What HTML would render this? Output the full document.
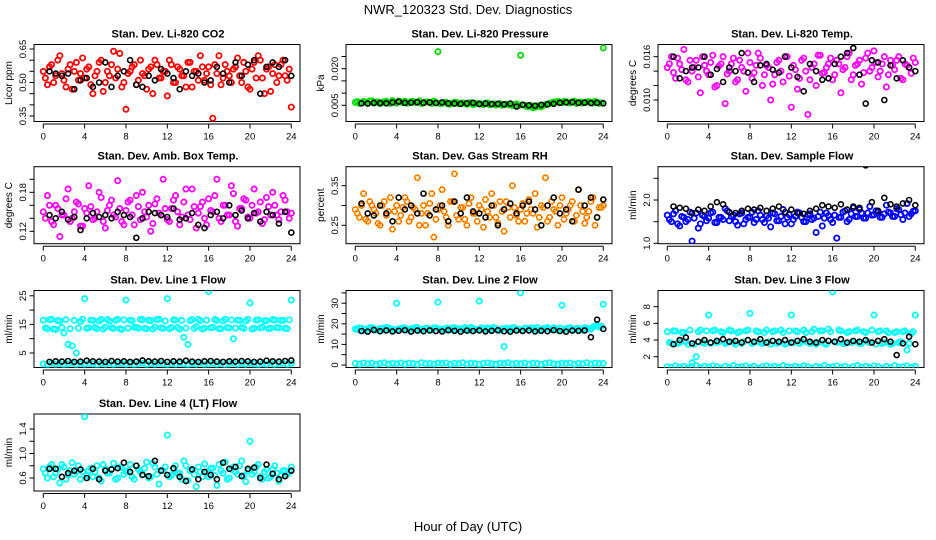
<!DOCTYPE html>
<html><head><meta charset="utf-8"><title>NWR_120323 Std. Dev. Diagnostics</title>
<style>
html,body{margin:0;padding:0;background:#fff;}
svg{display:block;font-family:"Liberation Sans",sans-serif;}
</style></head>
<body>
<svg id="chart" width="936" height="540" viewBox="0 0 936 540" xmlns="http://www.w3.org/2000/svg">
<text x="468" y="14" font-size="13" text-anchor="middle">NWR_120323  Std. Dev. Diagnostics</text>
<text x="468" y="531" font-size="13" text-anchor="middle">Hour of Day (UTC)</text>
</svg>
<script>
const hoursC=[0,0.4,0.8,1.2,1.6,2,2.4,2.8,3.2,3.6,4,4.4,4.8,5.2,5.6,6,6.4,6.8,7.2,7.6,8,8.4,8.8,9.2,9.6,10,10.4,10.8,11.2,11.6,12,12.4,12.8,13.2,13.6,14,14.4,14.8,15.2,15.6,16,16.4,16.8,17.2,17.6,18,18.4,18.8,19.2,19.6,20,20.4,20.8,21.2,21.6,22,22.4,22.8,23.2,23.6,24];
const hoursC2=[0.2,0.6,1,1.4,1.8,2.2,2.6,3,3.4,3.8,4.2,4.6,5,5.4,5.8,6.2,6.6,7,7.4,7.8,8.2,8.6,9,9.4,9.8,10.2,10.6,11,11.4,11.8,12.2,12.6,13,13.4,13.8,14.2,14.6,15,15.4,15.8,16.2,16.6,17,17.4,17.8,18.2,18.6,19,19.4,19.8,20.2,20.6,21,21.4,21.8,22.2,22.6,23,23.4,23.8];
const hoursB=[0.6,1.2,1.8,2.4,3,3.6,4.2,4.8,5.4,6,6.6,7.2,7.8,8.4,9,9.6,10.2,10.8,11.4,12,12.6,13.2,13.8,14.4,15,15.6,16.2,16.8,17.4,18,18.6,19.2,19.8,20.4,21,21.6,22.2,22.8,23.4,24];
const xTicks=[0,4,8,12,16,20,24];

const co2Vals=[0.55,0.49,0.58,0.53,0.62,0.51,0.56,0.47,0.59,0.54,0.52,0.57,0.45,0.55,0.60,0.50,0.53,0.64,0.56,0.48,0.38,0.55,0.58,0.51,0.54,0.47,0.57,0.60,0.52,0.55,0.44,0.58,0.50,0.56,0.53,0.59,0.48,0.55,0.62,0.51,0.57,0.34,0.54,0.49,0.58,0.53,0.56,0.61,0.50,0.55,0.47,0.59,0.62,0.52,0.56,0.46,0.58,0.53,0.60,0.51,0.39];
const co2ValsB=[0.52,0.57,0.50,0.60,0.54,0.48,0.58,0.55,0.51,0.61,0.56,0.49,0.53,0.59,0.46,0.55,0.58,0.52,0.63,0.50,0.54,0.57,0.49,0.60,0.53,0.56,0.45,0.58,0.52,0.55,0.60,0.50,0.57,0.53,0.48,0.59,0.55,0.51,0.57,0.54,0.49,0.58,0.62,0.52,0.55,0.50,0.57,0.53,0.59,0.48,0.56,0.52,0.60,0.45,0.57,0.54,0.50,0.58,0.53,0.56];
const co2Black=[0.55,0.54,0.53,0.54,0.47,0.51,0.52,0.48,0.50,0.59,0.48,0.53,0.55,0.60,0.49,0.48,0.53,0.51,0.56,0.54,0.52,0.47,0.55,0.53,0.54,0.50,0.51,0.57,0.54,0.50,0.59,0.53,0.58,0.60,0.45,0.57,0.59,0.57,0.60,0.53];
const presVals=[0.0062,0.0058,0.0066,0.0060,0.0068,0.0063,0.0057,0.0065,0.0061,0.0069,0.0059,0.0064,0.0067,0.0060,0.0066,0.0062,0.0058,0.0064,0.0061,0.0067,0.0270,0.0059,0.0062,0.0055,0.0063,0.0057,0.0060,0.0054,0.0061,0.0056,0.0058,0.0053,0.0060,0.0055,0.0051,0.0057,0.0052,0.0054,0.0049,0.0056,0.0255,0.0050,0.0046,0.0040,0.0048,0.0044,0.0052,0.0058,0.0063,0.0066,0.0061,0.0065,0.0060,0.0067,0.0062,0.0059,0.0064,0.0061,0.0066,0.0058,0.0285];
const presValsB=[0.0065,0.0060,0.0063,0.0068,0.0059,0.0064,0.0061,0.0066,0.0058,0.0063,0.0067,0.0061,0.0059,0.0065,0.0062,0.0068,0.0060,0.0064,0.0058,0.0062,0.0057,0.0061,0.0055,0.0059,0.0062,0.0056,0.0058,0.0060,0.0053,0.0057,0.0055,0.0059,0.0052,0.0056,0.0054,0.0050,0.0055,0.0051,0.0053,0.0048,0.0052,0.0045,0.0049,0.0042,0.0046,0.0050,0.0055,0.0060,0.0064,0.0062,0.0066,0.0060,0.0064,0.0058,0.0063,0.0061,0.0065,0.0059,0.0062,0.0060];
const presBlack=[0.0058,0.0057,0.0060,0.0059,0.0058,0.0062,0.0065,0.0060,0.0061,0.0063,0.0060,0.0062,0.0059,0.0062,0.0058,0.0057,0.0056,0.0058,0.0060,0.0055,0.0057,0.0055,0.0056,0.0054,0.0057,0.0045,0.0052,0.0050,0.0048,0.0052,0.0054,0.0056,0.0060,0.0062,0.0063,0.0060,0.0061,0.0059,0.0060,0.0058];
const tempVals=[0.0145,0.0160,0.0130,0.0150,0.0170,0.0125,0.0140,0.0155,0.0110,0.0148,0.0135,0.0162,0.0120,0.0150,0.0095,0.0140,0.0158,0.0128,0.0145,0.0112,0.0152,0.0138,0.0165,0.0120,0.0148,0.0100,0.0135,0.0155,0.0125,0.0160,0.0090,0.0142,0.0130,0.0158,0.0080,0.0145,0.0120,0.0162,0.0138,0.0150,0.0128,0.0155,0.0110,0.0145,0.0165,0.0135,0.0150,0.0122,0.0158,0.0140,0.0168,0.0132,0.0150,0.0118,0.0155,0.0142,0.0160,0.0128,0.0148,0.0137,0.0152];
const tempValsB=[0.0150,0.0138,0.0158,0.0142,0.0128,0.0155,0.0145,0.0132,0.0160,0.0140,0.0152,0.0118,0.0147,0.0160,0.0136,0.0150,0.0125,0.0155,0.0140,0.0165,0.0130,0.0148,0.0158,0.0135,0.0145,0.0122,0.0152,0.0140,0.0160,0.0133,0.0148,0.0115,0.0155,0.0140,0.0128,0.0150,0.0162,0.0137,0.0145,0.0158,0.0135,0.0150,0.0142,0.0160,0.0128,0.0148,0.0155,0.0138,0.0165,0.0145,0.0152,0.0140,0.0160,0.0135,0.0148,0.0155,0.0130,0.0150,0.0145,0.0158];
const tempBlack=[0.0160,0.0130,0.0140,0.0145,0.0145,0.0160,0.0135,0.0143,0.0125,0.0145,0.0140,0.0165,0.0138,0.0125,0.0148,0.0150,0.0142,0.0138,0.0160,0.0145,0.0132,0.0112,0.0150,0.0140,0.0128,0.0130,0.0150,0.0160,0.0165,0.0172,0.0135,0.0095,0.0155,0.0152,0.0100,0.0148,0.0130,0.0155,0.0145,0.0140];
const boxVals=[0.150,0.175,0.135,0.160,0.112,0.145,0.185,0.140,0.165,0.128,0.155,0.190,0.138,0.150,0.172,0.125,0.160,0.145,0.198,0.135,0.152,0.168,0.130,0.158,0.180,0.142,0.120,0.162,0.148,0.200,0.138,0.155,0.175,0.130,0.165,0.145,0.185,0.125,0.158,0.140,0.170,0.150,0.200,0.135,0.160,0.145,0.178,0.128,0.155,0.168,0.140,0.185,0.150,0.132,0.172,0.145,0.160,0.138,0.175,0.150,0.148];
const boxValsB=[0.140,0.160,0.130,0.155,0.145,0.170,0.135,0.150,0.162,0.128,0.148,0.158,0.140,0.180,0.135,0.152,0.168,0.142,0.155,0.130,0.165,0.145,0.175,0.138,0.150,0.160,0.132,0.170,0.145,0.155,0.135,0.168,0.150,0.142,0.185,0.138,0.158,0.148,0.165,0.130,0.152,0.175,0.140,0.160,0.145,0.190,0.135,0.155,0.170,0.142,0.160,0.148,0.165,0.138,0.158,0.180,0.145,0.150,0.168,0.140];
const boxBlack=[0.145,0.140,0.150,0.138,0.142,0.122,0.140,0.148,0.142,0.145,0.140,0.150,0.145,0.142,0.110,0.140,0.150,0.148,0.145,0.142,0.155,0.138,0.140,0.148,0.130,0.125,0.145,0.150,0.140,0.160,0.145,0.152,0.140,0.148,0.135,0.150,0.145,0.132,0.150,0.118];
const rhVals=[0.290,0.270,0.330,0.260,0.300,0.280,0.250,0.310,0.285,0.240,0.300,0.275,0.320,0.260,0.295,0.370,0.280,0.250,0.305,0.220,0.290,0.340,0.270,0.310,0.380,0.265,0.295,0.250,0.320,0.280,0.300,0.245,0.285,0.330,0.270,0.310,0.235,0.295,0.350,0.275,0.290,0.260,0.315,0.280,0.245,0.300,0.370,0.270,0.290,0.250,0.320,0.280,0.300,0.260,0.340,0.285,0.270,0.310,0.250,0.295,0.300];
const rhValsB=[0.280,0.300,0.265,0.310,0.290,0.255,0.300,0.275,0.320,0.285,0.260,0.295,0.310,0.270,0.290,0.250,0.300,0.280,0.330,0.265,0.300,0.285,0.250,0.310,0.275,0.295,0.265,0.305,0.280,0.260,0.290,0.315,0.270,0.300,0.255,0.285,0.310,0.270,0.295,0.260,0.305,0.280,0.290,0.330,0.270,0.295,0.260,0.310,0.285,0.300,0.265,0.290,0.310,0.275,0.300,0.255,0.285,0.320,0.270,0.295];
const rhBlack=[0.305,0.280,0.275,0.300,0.280,0.260,0.320,0.290,0.300,0.280,0.330,0.275,0.290,0.300,0.260,0.310,0.280,0.320,0.285,0.280,0.270,0.300,0.250,0.290,0.305,0.280,0.300,0.310,0.290,0.250,0.300,0.320,0.280,0.290,0.260,0.340,0.300,0.320,0.270,0.315];
const flowVals=[1.65,1.50,1.75,1.40,1.60,1.55,1.05,1.70,1.45,1.62,1.58,1.72,1.48,1.60,1.80,1.52,1.65,1.42,1.70,1.55,1.60,1.48,1.75,1.55,1.63,1.38,1.68,1.52,1.78,1.60,1.45,1.62,1.70,1.50,1.66,1.55,1.25,1.72,1.58,1.64,1.48,1.12,1.60,1.75,1.55,1.82,1.62,1.70,1.58,1.85,1.66,1.72,1.60,1.88,1.70,1.62,1.78,1.55,1.92,1.68,1.75];
const flowValsB=[1.55,1.68,1.45,1.62,1.50,1.72,1.58,1.35,1.65,1.52,1.70,1.48,1.60,1.55,1.75,1.62,1.50,1.68,1.45,1.60,1.72,1.55,1.65,1.48,1.58,1.70,1.52,1.62,1.45,1.66,1.55,1.72,1.60,1.50,1.68,1.58,1.62,1.40,1.70,1.55,1.65,1.60,1.72,1.50,1.68,1.62,1.78,1.58,1.70,1.65,1.75,1.60,1.68,1.72,1.62,1.80,1.66,1.70,1.62,1.74];
const flowBlack=[1.85,1.82,1.80,1.70,1.78,1.75,1.85,1.95,1.90,1.72,1.70,1.75,1.80,1.78,1.82,1.75,1.80,1.85,1.72,1.78,1.70,1.68,1.75,1.80,1.88,1.85,1.82,1.90,1.78,1.85,1.82,2.80,1.95,1.75,2.05,1.90,1.85,1.92,2.00,1.88];
const line1Up=[16.5,13.5,16.8,13.2,16.2,12.0,8.0,7.5,5.0,16.0,24.0,13.8,16.4,13.5,16.7,14.0,16.2,13.6,16.8,13.3,23.5,16.5,14.0,13.7,16.6,13.5,16.3,14.1,16.8,13.6,24.0,13.9,16.5,13.4,10.5,8.0,16.7,14.2,16.3,13.7,26.5,14.0,16.4,13.5,16.8,13.8,10.0,16.5,13.9,16.2,22.5,13.6,16.6,14.0,16.3,13.7,16.5,13.8,16.4,13.5,23.5];
const line1UpB=[13.8,16.6,13.4,16.3,13.9,16.7,13.5,16.4,13.7,16.8,13.6,16.5,13.9,16.2,13.4,16.7,13.8,16.4,13.5,16.6,13.7,16.3,13.9,16.8,13.6,16.5,13.4,16.7,13.8,16.2,13.5,16.6,13.9,16.4,13.7,16.3,13.6,16.8,13.4,16.5,13.8,16.7,13.5,16.2,13.9,16.6,13.7,16.4,13.6,16.8,13.4,16.5,13.8,16.3,13.5,16.7,13.9,16.4,13.6,16.6];
const line1Low=[1.2,1.0,1.4,1.1,1.3,0.9,1.2,1.5,1.0,1.3,1.1,1.4,1.2,0.9,1.3,1.1,1.5,1.0,1.2,1.4,1.1,1.3,0.9,1.2,1.4,1.0,1.3,1.1,1.5,1.2,1.0,1.3,1.1,1.4,1.2,0.9,1.3,1.1,1.5,1.0,1.2,1.4,1.1,1.3,0.9,1.2,1.5,1.0,1.3,1.1,1.4,1.2,0.9,1.3,1.1,1.5,1.0,1.2,1.4,1.1,1.3];
const line1Black=[1.9,2.1,2.0,2.2,1.9,2.0,2.3,2.1,2.0,1.9,2.2,2.0,2.1,1.9,2.0,2.4,2.1,2.0,2.2,1.9,2.1,2.0,2.3,2.0,1.9,2.1,2.2,2.0,1.9,2.1,2.0,2.2,2.1,1.9,2.0,2.3,2.1,2.0,2.2,2.4];
const line2Up=[17.5,18.0,16.8,17.6,18.2,17.0,17.8,16.9,18.1,17.4,30.0,17.7,18.0,16.9,17.5,18.2,17.1,17.8,16.8,18.0,30.5,17.3,17.9,16.9,18.1,17.5,17.0,17.8,18.2,17.2,31.0,17.6,18.0,17.1,17.8,16.8,9.0,17.5,18.1,17.3,35.0,17.9,16.9,17.6,18.2,17.0,17.8,17.4,18.0,16.8,29.0,17.5,18.1,17.2,17.8,16.9,18.0,17.4,19.0,18.5,29.5];
const line2UpB=[17.2,17.9,16.9,18.1,17.5,17.0,17.8,18.2,17.3,16.9,17.6,18.0,17.1,17.7,18.2,16.9,17.4,17.9,17.0,18.1,17.5,16.8,17.8,18.0,17.2,17.6,18.2,16.9,17.7,17.3,18.0,17.1,17.6,18.2,16.8,17.5,17.9,17.2,18.1,17.4,17.0,17.8,18.0,17.3,16.9,17.7,18.2,17.1,17.6,17.9,17.4,18.0,16.9,17.8,17.2,18.1,17.5,18.4,19.2,18.8];
const line2Low=[0.8,0.4,1.0,0.6,0.9,0.3,0.7,1.1,0.5,0.8,0.6,1.0,0.4,0.9,0.7,0.3,1.1,0.6,0.8,0.5,0.9,0.7,1.0,0.4,0.8,0.6,1.1,0.5,0.9,0.7,0.3,0.8,1.0,0.6,0.4,0.9,0.7,1.1,0.5,0.8,0.6,1.0,0.4,0.9,0.7,0.3,0.8,1.1,0.6,0.5,0.9,0.7,1.0,0.4,0.8,0.6,1.1,0.5,0.9,0.7,0.8];
const line2Black=[16.5,16.2,17.0,16.4,16.8,16.3,16.6,16.9,16.2,16.7,16.4,16.8,16.5,16.3,16.9,16.6,16.2,16.7,16.5,16.8,16.3,16.6,16.9,16.4,16.2,16.7,16.5,16.8,16.3,16.6,16.4,16.9,16.5,16.2,16.7,16.6,16.8,13.5,22.0,17.5];
const line3Up=[5.0,3.6,5.1,3.7,4.9,3.5,1.3,2.0,5.2,3.6,7.0,5.1,3.7,5.0,3.6,5.2,3.7,4.9,3.6,5.1,7.2,3.7,5.0,3.6,5.2,3.5,5.1,3.7,4.9,3.6,7.0,5.1,3.6,5.2,3.7,5.0,3.5,5.1,3.6,5.3,9.8,3.7,5.1,3.6,5.0,3.8,5.2,3.6,4.9,3.7,7.0,5.0,3.6,5.1,3.5,4.9,3.7,5.0,2.8,4.8,7.0];
const line3UpB=[3.7,5.1,3.6,4.9,3.8,5.2,3.5,5.0,3.7,5.1,3.6,5.2,3.8,4.9,3.7,5.1,3.5,5.0,3.8,5.2,3.6,5.1,3.7,4.9,3.8,5.0,3.6,5.2,3.5,5.1,3.7,5.0,3.8,4.9,3.6,5.3,3.7,5.1,3.5,5.0,3.8,5.2,3.6,4.9,3.7,5.1,3.6,5.0,3.8,5.2,3.5,5.1,3.7,4.9,3.6,5.0,3.8,5.1,3.6,5.0];
const line3Low=[0.8,0.7,0.9,0.75,0.85,0.65,0.8,0.95,0.7,0.85,0.75,0.9,0.8,0.65,0.85,0.7,0.95,0.75,0.8,0.9,0.7,0.85,0.65,0.8,0.9,0.75,0.85,0.7,0.95,0.8,0.7,0.85,0.75,0.9,0.8,0.65,0.85,0.7,0.95,0.75,0.8,0.9,0.7,0.85,0.65,0.8,0.95,0.75,0.85,0.7,0.9,0.8,0.65,0.85,0.7,0.95,0.75,0.8,0.9,0.7,0.85];
const line3Black=[3.5,4.0,4.3,3.6,3.8,4.0,3.7,3.9,4.1,3.8,3.9,3.7,4.0,3.8,4.1,3.7,3.9,3.8,4.0,3.7,3.9,4.1,3.8,3.7,4.0,3.9,3.8,4.1,3.7,3.9,3.8,4.0,3.7,3.9,4.1,3.8,2.2,3.6,4.4,3.5];
const line4Vals=[0.75,0.60,0.82,0.68,0.52,0.78,0.65,0.85,0.70,0.58,1.60,0.72,0.62,0.80,0.55,0.75,0.68,0.84,0.60,0.77,0.70,0.82,0.58,0.74,0.66,0.86,0.62,0.78,0.50,0.72,1.30,0.64,0.80,0.68,0.88,0.56,0.74,0.46,0.70,0.83,0.62,0.76,0.48,0.72,0.86,0.60,0.78,0.66,0.88,0.54,1.20,0.70,0.82,0.58,0.74,0.62,0.80,0.55,0.72,0.66,0.78];
const line4ValsB=[0.68,0.78,0.62,0.74,0.82,0.58,0.72,0.66,0.80,0.70,0.64,0.76,0.70,0.60,0.82,0.68,0.74,0.58,0.78,0.66,0.72,0.62,0.80,0.70,0.76,0.60,0.84,0.66,0.72,0.78,0.62,0.74,0.68,0.58,0.80,0.72,0.66,0.78,0.62,0.70,0.76,0.64,0.82,0.68,0.58,0.74,0.70,0.80,0.64,0.72,0.66,0.78,0.62,0.70,0.60,0.74,0.68,0.64,0.72,0.70];
const line4Black=[0.75,0.75,0.62,0.68,0.72,0.74,0.60,0.75,0.58,0.72,0.74,0.76,0.85,0.70,0.80,0.65,0.63,0.88,0.72,0.65,0.76,0.62,0.55,0.74,0.58,0.70,0.65,0.58,0.85,0.75,0.78,0.63,0.75,0.77,0.60,0.82,0.67,0.58,0.63,0.72];

const panels=[
 {name:'co2',col:0,row:0,title:'Stan. Dev. Li-820 CO2',ylab:'Licor ppm',ref:0.35,refY:116,slope:223.3,ticks:[0.35,0.40,0.45,0.50,0.55,0.60,0.65],labels:['0.35','0.50','0.65'],color:'#ff0000',series:[co2Vals],seriesB:[co2ValsB],black:co2Black},
 {name:'pressure',col:1,row:0,title:'Stan. Dev. Li-820 Pressure',ylab:'kPa',ref:0.005,refY:105.3,slope:2440,ticks:[0.005,0.010,0.015,0.020,0.025],labels:['0.005','0.020'],color:'#00dd00',series:[presVals],seriesB:[presValsB],black:presBlack},
 {name:'licor-temp',col:2,row:0,title:'Stan. Dev. Li-820 Temp.',ylab:'degrees C',ref:0.010,refY:100,slope:7220,ticks:[0.010,0.012,0.014,0.016],labels:['0.010','0.016'],color:'#ff00ff',series:[tempVals],seriesB:[tempValsB],black:tempBlack},
 {name:'box-temp',col:0,row:1,title:'Stan. Dev. Amb. Box Temp.',ylab:'degrees C',ref:0.12,refY:231.3,slope:650,ticks:[0.12,0.14,0.16,0.18,0.20],labels:['0.12','0.18'],color:'#ff00ff',series:[boxVals],seriesB:[boxValsB],black:boxBlack},
 {name:'gas-rh',col:1,row:1,title:'Stan. Dev. Gas Stream RH',ylab:'percent',ref:0.25,refY:225.3,slope:396,ticks:[0.25,0.30,0.35],labels:['0.25','0.35'],color:'#ffa000',series:[rhVals],seriesB:[rhValsB],black:rhBlack},
 {name:'sample-flow',col:2,row:1,title:'Stan. Dev. Sample Flow',ylab:'ml/min',ref:1.0,refY:243.3,slope:43.3,ticks:[1.0,1.5,2.0,2.5],labels:['1.0','2.0'],color:'#0000ff',series:[flowVals],seriesB:[flowValsB],black:flowBlack},
 {name:'line1-flow',col:0,row:2,title:'Stan. Dev. Line 1 Flow',ylab:'ml/min',ref:5,refY:353,slope:2.86,ticks:[5,10,15,20,25],labels:['5','15','25'],color:'#00ffff',series:[line1Up,line1Low],seriesB:[line1UpB],black:line1Black},
 {name:'line2-flow',col:1,row:2,title:'Stan. Dev. Line 2 Flow',ylab:'ml/min',ref:0,refY:365,slope:2.06,ticks:[0,5,10,15,20,25,30,35],labels:['0','10','20','30'],color:'#00ffff',series:[line2Up,line2Low],seriesB:[line2UpB],black:line2Black},
 {name:'line3-flow',col:2,row:2,title:'Stan. Dev. Line 3 Flow',ylab:'ml/min',ref:2,refY:356.7,slope:8.33,ticks:[2,4,6,8],labels:['2','4','6','8'],color:'#00ffff',series:[line3Up,line3Low],seriesB:[line3UpB],black:line3Black},
 {name:'line4-flow',col:0,row:3,title:'Stan. Dev. Line 4 (LT) Flow',ylab:'ml/min',ref:0.6,refY:478,slope:61.25,ticks:[0.6,0.8,1.0,1.2,1.4],labels:['0.6','1.0','1.4'],color:'#00ffff',series:[line4Vals],seriesB:[line4ValsB],black:line4Black}
];

const NS='http://www.w3.org/2000/svg';
const svg=document.getElementById('chart');
const rowTops=[44.5,166.7,290.5,414];
function mk(tag,attrs,parent){const e=document.createElementNS(NS,tag);for(const k in attrs)e.setAttribute(k,attrs[k]);(parent||svg).appendChild(e);return e;}

panels.forEach((p,pi)=>{
  const left=34+p.col*312, top=rowTops[p.row], w=266, h=77;
  const xScale=v=>43.3+p.col*312+v*(248/24);
  const yScale=v=>p.refY-(v-p.ref)*p.slope;
  const g=mk('g',{});
  
  
  const cp=mk('clipPath',{id:'clip'+pi},g);
  mk('rect',{x:left,y:top,width:w,height:h},cp);
  const t=mk('text',{x:left+w/2+1,y:top-7,'font-size':11,'font-weight':'bold','text-anchor':'middle'},g);
  t.textContent=p.title;
  
  
  const yl=mk('text',{x:0,y:0,'font-size':10,'text-anchor':'middle',transform:`translate(${left-22},${top+h/2}) rotate(-90)`},g);
  yl.textContent=p.ylab;
  
  
  const xa=mk('g',{},g);
  
  
  mk('line',{x1:xScale(0),x2:xScale(24),y1:top+h+2.5,y2:top+h+2.5,stroke:'#000','stroke-width':1},xa);
  xTicks.forEach(v=>{
    mk('line',{x1:xScale(v),x2:xScale(v),y1:top+h+2.5,y2:top+h+7,stroke:'#000','stroke-width':1},xa);
    const tl=mk('text',{x:xScale(v),y:top+h+18,'font-size':9.5,'text-anchor':'middle'},xa);
    tl.textContent=String(v);
    
    
  });
  const ya=mk('g',{},g);
  
  
  const yv=p.ticks.map(yScale);
  mk('line',{x1:left,x2:left,y1:Math.max(...yv),y2:Math.min(...yv),stroke:'#000','stroke-width':1},ya);
  p.ticks.forEach(v=>{mk('line',{x1:left-4.5,x2:left,y1:yScale(v),y2:yScale(v),stroke:'#000','stroke-width':1},ya);});
  p.labels.forEach(s=>{
    const y=yScale(parseFloat(s));
    const tl=mk('text',{x:0,y:0,'font-size':9.5,'text-anchor':'middle',transform:`translate(${left-8},${y}) rotate(-90)`},ya);
    tl.textContent=s;
    
    
  });
  const bx=mk('rect',{x:left,y:top,width:w,height:h,fill:'none',stroke:'#000','stroke-width':1},g);
  
  
  const pts=mk('g',{'clip-path':`url(#clip${pi})`},g);
  
  
  function drawSet(arr,hrs){
    arr.forEach((v,i)=>{
      if(i>=hrs.length)return;
      const c=mk('circle',{cx:xScale(hrs[i]),cy:yScale(v),r:2.6,fill:'none',stroke:p.color,'stroke-width':1.8},pts);
      
      
      if(p.name==='gas-rh'){const d=mk('circle',{cx:xScale(hrs[i]),cy:yScale(v),r:2.6,fill:'none',stroke:'#ff2000','stroke-width':0.8,'stroke-dasharray':'1 1.5'},pts);
        
        }
    });
  }
  p.series.forEach(arr=>drawSet(arr,hoursC));
  p.seriesB.forEach(arr=>drawSet(arr,hoursC2));
  p.black.forEach((v,i)=>{
    if(i>=hoursB.length)return;
    const c=mk('circle',{cx:xScale(hoursB[i]),cy:yScale(v),r:2.5,fill:'none',stroke:'#000','stroke-width':1.6},pts);
    
    
  });
});
</script>
</body></html>
